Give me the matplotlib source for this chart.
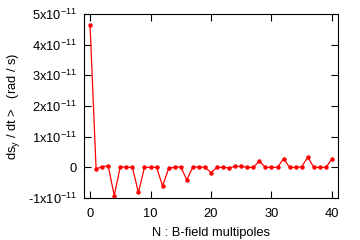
import numpy as np
import matplotlib
matplotlib.use("Agg")
import matplotlib.pyplot as plt

plt.rcParams["font.family"] = ["Liberation Sans", "DejaVu Sans"]
plt.rcParams["mathtext.fontset"] = "custom"
plt.rcParams["mathtext.rm"] = "Liberation Sans"
plt.rcParams["mathtext.it"] = "Liberation Sans"
plt.rcParams["mathtext.default"] = "regular"

# multipole index
n_pole = np.arange(0, 41)
# <ds_y/dt> in units of 1e-11 rad/s
dsy_dt = [4.65, -0.05, 0.02, 0.05, -0.92, 0.02, 0.0, 0.0, -0.82, 0.0,
          0.0, 0.0, -0.61, -0.03, 0.0, 0.02, -0.41, 0.01, 0.01, 0.0,
          -0.17, 0.0, 0.0, -0.02, 0.03, 0.03, 0.0, 0.0, 0.20, 0.0,
          0.0, 0.0, 0.28, 0.0, 0.0, 0.02, 0.33, 0.0, 0.0, 0.0,
          0.27]
yticks = [-1, 0, 1, 2, 3, 4, 5]
ytick_labels = ["-1x10$^{-11}$", "0", "1x10$^{-11}$", "2x10$^{-11}$",
                "3x10$^{-11}$", "4x10$^{-11}$", "5x10$^{-11}$"]
xticks = [0, 10, 20, 30, 40]

fig = plt.figure(figsize=(3.6, 2.4), dpi=100)
ax = fig.add_axes([0.2333, 0.175, 0.7056, 0.7667])

scale = 1e-11
ax.plot(n_pole, np.array(dsy_dt) * scale, color="red", linewidth=0.9,
        marker="o", markersize=2.2)

ax.set_xlim(-1, 41)
ax.set_ylim(-1 * scale, 5 * scale)
ax.set_xticks(xticks)
ax.set_yticks(np.array(yticks) * scale)
ax.set_yticklabels(ytick_labels)

ax.tick_params(direction="in", length=5, width=0.8, top=True, right=True,
               labelsize=9.3)
ax.tick_params(axis="x", pad=7)
ax.tick_params(axis="y", pad=5)
for sp in ax.spines.values():
    sp.set_linewidth(0.8)

ax.set_xlabel("N : B-field multipoles", fontsize=9.3, labelpad=5)
ax.set_ylabel("ds$_y$ / dt >   (rad / s)", fontsize=9.3, labelpad=4)

fig.savefig("out.png", dpi=100)
